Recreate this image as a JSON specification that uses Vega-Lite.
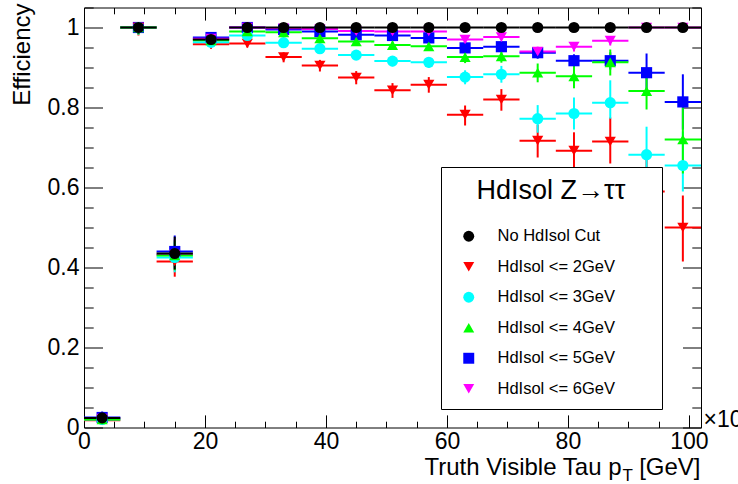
{
"$schema": "https://vega.github.io/schema/vega-lite/v6.json",
"width": 617, "height": 420,
"autosize": {"type": "none"},
"padding": {"left": 84, "top": 7.5, "right": 37, "bottom": 56.5},
"config": {
  "view": {"stroke": "#000", "strokeWidth": 1},
  "font": "Liberation Sans",
  "axis": {"domain": false, "grid": false, "tickColor": "#000", "tickWidth": 1, "labelColor": "#000", "titleColor": "#000", "labelFont": "Liberation Sans", "titleFont": "Liberation Sans", "labelFontSize": 23, "titleFontSize": 24, "titleFontWeight": "normal", "labelFlush": false, "labelOverlap": false, "labelBound": false},
  "legend": {"strokeColor": "#000000", "strokeWidth": 1, "fillColor": "#ffffff", "padding": 11, "titleFont": "Liberation Sans", "titleFontSize": 27, "titleFontWeight": "normal", "titleColor": "#000", "titleAnchor": "middle", "titlePadding": 23, "labelFont": "Liberation Sans", "labelFontSize": 16.5, "labelColor": "#000", "rowPadding": 13.5, "symbolSize": 120, "symbolStrokeWidth": 0, "symbolOffset": 8.5, "labelOffset": 20.5, "labelLimit": 400, "zindex": 5}
},
"data": {"values": [
{"s":"HdIsol <= 5GeV","x":3,"x0":0,"x1":6,"y":0.025,"lo":0.015,"hi":0.04},
{"s":"HdIsol <= 5GeV","x":9,"x0":6,"x1":12,"y":1.0,"lo":0.985,"hi":1.0},
{"s":"HdIsol <= 5GeV","x":15,"x0":12,"x1":18,"y":0.44,"lo":0.40,"hi":0.48},
{"s":"HdIsol <= 5GeV","x":21,"x0":18,"x1":24,"y":0.975,"lo":0.965,"hi":0.983},
{"s":"HdIsol <= 5GeV","x":27,"x0":24,"x1":30,"y":1.0,"lo":0.995,"hi":1.0},
{"s":"HdIsol <= 5GeV","x":33,"x0":30,"x1":36,"y":0.995,"lo":0.99,"hi":0.999},
{"s":"HdIsol <= 5GeV","x":39,"x0":36,"x1":42,"y":0.99,"lo":0.984,"hi":0.995},
{"s":"HdIsol <= 5GeV","x":45,"x0":42,"x1":48,"y":0.982,"lo":0.975,"hi":0.988},
{"s":"HdIsol <= 5GeV","x":51,"x0":48,"x1":54,"y":0.98,"lo":0.972,"hi":0.987},
{"s":"HdIsol <= 5GeV","x":57,"x0":54,"x1":60,"y":0.974,"lo":0.965,"hi":0.982},
{"s":"HdIsol <= 5GeV","x":63,"x0":60,"x1":66,"y":0.949,"lo":0.937,"hi":0.96},
{"s":"HdIsol <= 5GeV","x":69,"x0":66,"x1":72,"y":0.952,"lo":0.94,"hi":0.963},
{"s":"HdIsol <= 5GeV","x":75,"x0":72,"x1":78,"y":0.937,"lo":0.922,"hi":0.951},
{"s":"HdIsol <= 5GeV","x":81,"x0":78,"x1":84,"y":0.917,"lo":0.9,"hi":0.933},
{"s":"HdIsol <= 5GeV","x":87,"x0":84,"x1":90,"y":0.917,"lo":0.895,"hi":0.938},
{"s":"HdIsol <= 5GeV","x":93,"x0":90,"x1":96,"y":0.887,"lo":0.84,"hi":0.935},
{"s":"HdIsol <= 5GeV","x":99,"x0":96,"x1":102,"y":0.814,"lo":0.745,"hi":0.883},
{"s":"HdIsol <= 6GeV","x":3,"x0":0,"x1":6,"y":0.022,"lo":0.012,"hi":0.035},
{"s":"HdIsol <= 6GeV","x":9,"x0":6,"x1":12,"y":1.0,"lo":0.985,"hi":1.0},
{"s":"HdIsol <= 6GeV","x":15,"x0":12,"x1":18,"y":0.432,"lo":0.395,"hi":0.47},
{"s":"HdIsol <= 6GeV","x":21,"x0":18,"x1":24,"y":0.972,"lo":0.962,"hi":0.98},
{"s":"HdIsol <= 6GeV","x":27,"x0":24,"x1":30,"y":1.0,"lo":0.995,"hi":1.0},
{"s":"HdIsol <= 6GeV","x":33,"x0":30,"x1":36,"y":0.998,"lo":0.994,"hi":1.0},
{"s":"HdIsol <= 6GeV","x":39,"x0":36,"x1":42,"y":0.996,"lo":0.992,"hi":0.999},
{"s":"HdIsol <= 6GeV","x":45,"x0":42,"x1":48,"y":0.991,"lo":0.986,"hi":0.995},
{"s":"HdIsol <= 6GeV","x":51,"x0":48,"x1":54,"y":0.99,"lo":0.984,"hi":0.995},
{"s":"HdIsol <= 6GeV","x":57,"x0":54,"x1":60,"y":0.99,"lo":0.984,"hi":0.995},
{"s":"HdIsol <= 6GeV","x":63,"x0":60,"x1":66,"y":0.97,"lo":0.961,"hi":0.978},
{"s":"HdIsol <= 6GeV","x":69,"x0":66,"x1":72,"y":0.976,"lo":0.968,"hi":0.983},
{"s":"HdIsol <= 6GeV","x":75,"x0":72,"x1":78,"y":0.94,"lo":0.927,"hi":0.952},
{"s":"HdIsol <= 6GeV","x":81,"x0":78,"x1":84,"y":0.952,"lo":0.94,"hi":0.963},
{"s":"HdIsol <= 6GeV","x":87,"x0":84,"x1":90,"y":0.967,"lo":0.955,"hi":0.977},
{"s":"HdIsol <= 6GeV","x":93,"x0":90,"x1":96,"y":1.0,"lo":0.99,"hi":1.0},
{"s":"HdIsol <= 6GeV","x":99,"x0":96,"x1":102,"y":1.0,"lo":0.99,"hi":1.0},
{"s":"HdIsol <= 2GeV","x":3,"x0":0,"x1":6,"y":0.018,"lo":0.01,"hi":0.03},
{"s":"HdIsol <= 2GeV","x":9,"x0":6,"x1":12,"y":1.0,"lo":0.98,"hi":1.0},
{"s":"HdIsol <= 2GeV","x":15,"x0":12,"x1":18,"y":0.415,"lo":0.377,"hi":0.455},
{"s":"HdIsol <= 2GeV","x":21,"x0":18,"x1":24,"y":0.958,"lo":0.947,"hi":0.968},
{"s":"HdIsol <= 2GeV","x":27,"x0":24,"x1":30,"y":0.96,"lo":0.95,"hi":0.969},
{"s":"HdIsol <= 2GeV","x":33,"x0":30,"x1":36,"y":0.926,"lo":0.913,"hi":0.938},
{"s":"HdIsol <= 2GeV","x":39,"x0":36,"x1":42,"y":0.905,"lo":0.89,"hi":0.919},
{"s":"HdIsol <= 2GeV","x":45,"x0":42,"x1":48,"y":0.875,"lo":0.858,"hi":0.891},
{"s":"HdIsol <= 2GeV","x":51,"x0":48,"x1":54,"y":0.843,"lo":0.824,"hi":0.861},
{"s":"HdIsol <= 2GeV","x":57,"x0":54,"x1":60,"y":0.857,"lo":0.837,"hi":0.876},
{"s":"HdIsol <= 2GeV","x":63,"x0":60,"x1":66,"y":0.782,"lo":0.755,"hi":0.805},
{"s":"HdIsol <= 2GeV","x":69,"x0":66,"x1":72,"y":0.82,"lo":0.792,"hi":0.846},
{"s":"HdIsol <= 2GeV","x":75,"x0":72,"x1":78,"y":0.717,"lo":0.675,"hi":0.757},
{"s":"HdIsol <= 2GeV","x":81,"x0":78,"x1":84,"y":0.692,"lo":0.645,"hi":0.738},
{"s":"HdIsol <= 2GeV","x":87,"x0":84,"x1":90,"y":0.715,"lo":0.66,"hi":0.775},
{"s":"HdIsol <= 2GeV","x":93,"x0":90,"x1":96,"y":0.59,"lo":0.51,"hi":0.675},
{"s":"HdIsol <= 2GeV","x":99,"x0":96,"x1":102,"y":0.5,"lo":0.415,"hi":0.58},
{"s":"HdIsol <= 3GeV","x":3,"x0":0,"x1":6,"y":0.02,"lo":0.012,"hi":0.032},
{"s":"HdIsol <= 3GeV","x":9,"x0":6,"x1":12,"y":1.0,"lo":0.982,"hi":1.0},
{"s":"HdIsol <= 3GeV","x":15,"x0":12,"x1":18,"y":0.425,"lo":0.388,"hi":0.463},
{"s":"HdIsol <= 3GeV","x":21,"x0":18,"x1":24,"y":0.963,"lo":0.953,"hi":0.972},
{"s":"HdIsol <= 3GeV","x":27,"x0":24,"x1":30,"y":0.98,"lo":0.973,"hi":0.986},
{"s":"HdIsol <= 3GeV","x":33,"x0":30,"x1":36,"y":0.962,"lo":0.953,"hi":0.97},
{"s":"HdIsol <= 3GeV","x":39,"x0":36,"x1":42,"y":0.947,"lo":0.937,"hi":0.956},
{"s":"HdIsol <= 3GeV","x":45,"x0":42,"x1":48,"y":0.931,"lo":0.919,"hi":0.942},
{"s":"HdIsol <= 3GeV","x":51,"x0":48,"x1":54,"y":0.916,"lo":0.903,"hi":0.928},
{"s":"HdIsol <= 3GeV","x":57,"x0":54,"x1":60,"y":0.913,"lo":0.899,"hi":0.926},
{"s":"HdIsol <= 3GeV","x":63,"x0":60,"x1":66,"y":0.876,"lo":0.858,"hi":0.893},
{"s":"HdIsol <= 3GeV","x":69,"x0":66,"x1":72,"y":0.883,"lo":0.862,"hi":0.904},
{"s":"HdIsol <= 3GeV","x":75,"x0":72,"x1":78,"y":0.772,"lo":0.737,"hi":0.806},
{"s":"HdIsol <= 3GeV","x":81,"x0":78,"x1":84,"y":0.785,"lo":0.745,"hi":0.825},
{"s":"HdIsol <= 3GeV","x":87,"x0":84,"x1":90,"y":0.812,"lo":0.772,"hi":0.868},
{"s":"HdIsol <= 3GeV","x":93,"x0":90,"x1":96,"y":0.682,"lo":0.61,"hi":0.752},
{"s":"HdIsol <= 3GeV","x":99,"x0":96,"x1":102,"y":0.655,"lo":0.59,"hi":0.74},
{"s":"HdIsol <= 4GeV","x":3,"x0":0,"x1":6,"y":0.02,"lo":0.012,"hi":0.032},
{"s":"HdIsol <= 4GeV","x":9,"x0":6,"x1":12,"y":1.0,"lo":0.983,"hi":1.0},
{"s":"HdIsol <= 4GeV","x":15,"x0":12,"x1":18,"y":0.43,"lo":0.393,"hi":0.468},
{"s":"HdIsol <= 4GeV","x":21,"x0":18,"x1":24,"y":0.968,"lo":0.958,"hi":0.977},
{"s":"HdIsol <= 4GeV","x":27,"x0":24,"x1":30,"y":0.99,"lo":0.985,"hi":0.994},
{"s":"HdIsol <= 4GeV","x":33,"x0":30,"x1":36,"y":0.988,"lo":0.982,"hi":0.993},
{"s":"HdIsol <= 4GeV","x":39,"x0":36,"x1":42,"y":0.973,"lo":0.965,"hi":0.98},
{"s":"HdIsol <= 4GeV","x":45,"x0":42,"x1":48,"y":0.965,"lo":0.956,"hi":0.973},
{"s":"HdIsol <= 4GeV","x":51,"x0":48,"x1":54,"y":0.956,"lo":0.946,"hi":0.965},
{"s":"HdIsol <= 4GeV","x":57,"x0":54,"x1":60,"y":0.953,"lo":0.942,"hi":0.963},
{"s":"HdIsol <= 4GeV","x":63,"x0":60,"x1":66,"y":0.926,"lo":0.911,"hi":0.94},
{"s":"HdIsol <= 4GeV","x":69,"x0":66,"x1":72,"y":0.928,"lo":0.912,"hi":0.943},
{"s":"HdIsol <= 4GeV","x":75,"x0":72,"x1":78,"y":0.887,"lo":0.863,"hi":0.91},
{"s":"HdIsol <= 4GeV","x":81,"x0":78,"x1":84,"y":0.878,"lo":0.848,"hi":0.905},
{"s":"HdIsol <= 4GeV","x":87,"x0":84,"x1":90,"y":0.913,"lo":0.88,"hi":0.945},
{"s":"HdIsol <= 4GeV","x":93,"x0":90,"x1":96,"y":0.841,"lo":0.795,"hi":0.882},
{"s":"HdIsol <= 4GeV","x":99,"x0":96,"x1":102,"y":0.72,"lo":0.635,"hi":0.8},
{"s":"No HdIsol Cut","x":3,"x0":0,"x1":6,"y":0.024,"lo":0.014,"hi":0.038},
{"s":"No HdIsol Cut","x":9,"x0":6,"x1":12,"y":1.0,"lo":0.985,"hi":1.0},
{"s":"No HdIsol Cut","x":15,"x0":12,"x1":18,"y":0.435,"lo":0.395,"hi":0.477},
{"s":"No HdIsol Cut","x":21,"x0":18,"x1":24,"y":0.97,"lo":0.96,"hi":0.979},
{"s":"No HdIsol Cut","x":27,"x0":24,"x1":30,"y":1.0,"lo":0.993,"hi":1.0},
{"s":"No HdIsol Cut","x":33,"x0":30,"x1":36,"y":1.0,"lo":0.993,"hi":1.0},
{"s":"No HdIsol Cut","x":39,"x0":36,"x1":42,"y":1.0,"lo":0.993,"hi":1.0},
{"s":"No HdIsol Cut","x":45,"x0":42,"x1":48,"y":1.0,"lo":0.993,"hi":1.0},
{"s":"No HdIsol Cut","x":51,"x0":48,"x1":54,"y":1.0,"lo":0.993,"hi":1.0},
{"s":"No HdIsol Cut","x":57,"x0":54,"x1":60,"y":1.0,"lo":0.993,"hi":1.0},
{"s":"No HdIsol Cut","x":63,"x0":60,"x1":66,"y":1.0,"lo":0.993,"hi":1.0},
{"s":"No HdIsol Cut","x":69,"x0":66,"x1":72,"y":1.0,"lo":0.993,"hi":1.0},
{"s":"No HdIsol Cut","x":75,"x0":72,"x1":78,"y":1.0,"lo":0.993,"hi":1.0},
{"s":"No HdIsol Cut","x":81,"x0":78,"x1":84,"y":1.0,"lo":0.993,"hi":1.0},
{"s":"No HdIsol Cut","x":87,"x0":84,"x1":90,"y":1.0,"lo":0.993,"hi":1.0},
{"s":"No HdIsol Cut","x":93,"x0":90,"x1":96,"y":1.0,"lo":0.993,"hi":1.0},
{"s":"No HdIsol Cut","x":99,"x0":96,"x1":102,"y":1.0,"lo":0.993,"hi":1.0}
]},
"layer": [
  {"mark": {"type": "point", "opacity": 0},
   "encoding": {
     "x": {"field": "x", "type": "quantitative", "scale": {"domain": [0, 102], "nice": false, "zero": false},
       "axis": {"orient": "bottom", "values": [0, 20, 40, 60, 80, 100], "tickSize": -12.6, "labelPadding": 15.6,
         "title": "Truth Visible Tau p", "titleAnchor": "end", "titleAlign": "right", "titleBaseline": "alphabetic", "titleX": 537, "titleY": 46.5}},
     "y": {"field": "y", "type": "quantitative", "scale": {"domain": [0, 1.05], "nice": false, "zero": false},
       "axis": {"orient": "left", "values": [0, 0.2, 0.4, 0.6, 0.8, 1], "format": ".1~f", "tickSize": -18.5, "labelPadding": 23.5,
         "title": "Efficiency", "titleAnchor": "end", "titleAlign": "right", "titleAngle": -90, "titleBaseline": "bottom", "titleX": -50, "titleY": -4.5}}
   }},
  {"mark": {"type": "point", "opacity": 0},
   "encoding": {
     "x": {"field": "x", "type": "quantitative", "scale": {"domain": [0, 102], "nice": false, "zero": false},
       "axis": {"orient": "bottom", "values": [5, 10, 15, 25, 30, 35, 45, 50, 55, 65, 70, 75, 85, 90, 95], "tickSize": -6.3, "labels": false,
         "title": "T", "titleFontSize": 17, "titleAnchor": "start", "titleAlign": "left", "titleBaseline": "alphabetic", "titleX": 538, "titleY": 53}},
     "y": {"field": "y", "type": "quantitative", "scale": {"domain": [0, 1.05], "nice": false, "zero": false},
       "axis": {"orient": "left", "values": [0.05, 0.1, 0.15, 0.25, 0.3, 0.35, 0.45, 0.5, 0.55, 0.65, 0.7, 0.75, 0.85, 0.9, 0.95, 1.05], "tickSize": -9.2, "labels": false, "title": null}}
   }},
  {"mark": {"type": "point", "opacity": 0},
   "encoding": {
     "x": {"field": "x", "type": "quantitative", "scale": {"domain": [0, 102], "nice": false, "zero": false},
       "axis": {"orient": "top", "values": [0, 20, 40, 60, 80, 100], "tickSize": -12.6, "labels": false,
         "title": "×10³", "titleFontSize": 23, "titleAnchor": "start", "titleAlign": "left", "titleBaseline": "alphabetic", "titleX": 619, "titleY": 419}},
     "y": {"field": "y", "type": "quantitative", "scale": {"domain": [0, 1.05], "nice": false, "zero": false},
       "axis": {"orient": "right", "values": [0, 0.2, 0.4, 0.6, 0.8, 1], "tickSize": -18.5, "labels": false, "title": null}}
   }},
  {"mark": {"type": "point", "opacity": 0},
   "encoding": {
     "x": {"field": "x", "type": "quantitative", "scale": {"domain": [0, 102], "nice": false, "zero": false},
       "axis": {"orient": "top", "values": [5, 10, 15, 25, 30, 35, 45, 50, 55, 65, 70, 75, 85, 90, 95], "tickSize": -6.3, "labels": false,
         "title": "[GeV]", "titleAnchor": "end", "titleAlign": "right", "titleBaseline": "alphabetic", "titleX": 616, "titleY": 466.5}},
     "y": {"field": "y", "type": "quantitative", "scale": {"domain": [0, 1.05], "nice": false, "zero": false},
       "axis": {"orient": "right", "values": [0.05, 0.1, 0.15, 0.25, 0.3, 0.35, 0.45, 0.5, 0.55, 0.65, 0.7, 0.75, 0.85, 0.9, 0.95, 1.05], "tickSize": -9.2, "labels": false, "title": null}}
   }},
  {"mark": {"type": "rule", "strokeWidth": 2},
   "encoding": {
     "x": {"field": "x0", "type": "quantitative", "axis": null},
     "x2": {"field": "x1"},
     "y": {"field": "y", "type": "quantitative", "axis": null},
     "color": {"condition": [
        {"test": "datum.s === 'HdIsol <= 2GeV'", "value": "#ff0000"},
        {"test": "datum.s === 'HdIsol <= 3GeV'", "value": "#00ffff"},
        {"test": "datum.s === 'HdIsol <= 4GeV'", "value": "#00ff00"},
        {"test": "datum.s === 'HdIsol <= 5GeV'", "value": "#0000ff"},
        {"test": "datum.s === 'HdIsol <= 6GeV'", "value": "#ff00ff"}], "value": "#000000"}
   }},
  {"mark": {"type": "rule", "strokeWidth": 2},
   "encoding": {
     "x": {"field": "x", "type": "quantitative", "axis": null},
     "y": {"field": "lo", "type": "quantitative", "axis": null},
     "y2": {"field": "hi"},
     "color": {"condition": [
        {"test": "datum.s === 'HdIsol <= 2GeV'", "value": "#ff0000"},
        {"test": "datum.s === 'HdIsol <= 3GeV'", "value": "#00ffff"},
        {"test": "datum.s === 'HdIsol <= 4GeV'", "value": "#00ff00"},
        {"test": "datum.s === 'HdIsol <= 5GeV'", "value": "#0000ff"},
        {"test": "datum.s === 'HdIsol <= 6GeV'", "value": "#ff00ff"}], "value": "#000000"}
   }},
  {"mark": {"type": "point", "filled": true, "opacity": 1, "size": 125, "strokeWidth": 0},
   "encoding": {
     "x": {"field": "x", "type": "quantitative", "axis": null},
     "y": {"field": "y", "type": "quantitative", "axis": null},
     "color": {"field": "s", "type": "nominal",
       "scale": {"domain": ["No HdIsol Cut", "HdIsol <= 2GeV", "HdIsol <= 3GeV", "HdIsol <= 4GeV", "HdIsol <= 5GeV", "HdIsol <= 6GeV"],
                 "range": ["#000000", "#ff0000", "#00ffff", "#00ff00", "#0000ff", "#ff00ff"]},
       "legend": {"title": "HdIsol Z→ττ", "orient": "none", "legendX": 357, "legendY": 159.5, "zindex": 5, "fillColor": "#ffffff", "strokeColor": "#000000", "labelExpr": "datum.label + '\u2800\u2800\u2800'"}},
     "shape": {"field": "s", "type": "nominal",
       "scale": {"domain": ["No HdIsol Cut", "HdIsol <= 2GeV", "HdIsol <= 3GeV", "HdIsol <= 4GeV", "HdIsol <= 5GeV", "HdIsol <= 6GeV"],
                 "range": ["circle", "triangle-down", "circle", "triangle-up", "square", "triangle-down"]},
       "legend": {"title": "HdIsol Z→ττ", "orient": "none", "legendX": 357, "legendY": 159.5, "zindex": 5, "fillColor": "#ffffff", "strokeColor": "#000000", "labelExpr": "datum.label + '\u2800\u2800\u2800'"}}
   }}
],
"resolve": {"axis": {"x": "independent", "y": "independent"}}
}
